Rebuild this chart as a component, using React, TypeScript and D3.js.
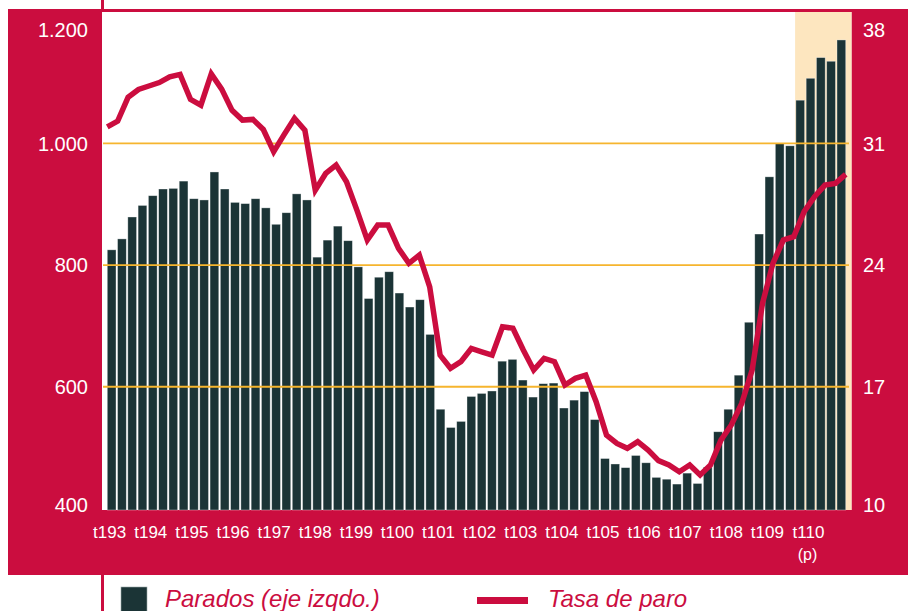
import React from 'react';
import * as d3 from 'd3';

// Parados (miles), un valor por trimestre
const parados = [
  825, 843, 879, 898, 914, 925, 926, 938, 909, 907,
  953, 925, 903, 901, 909, 894, 867, 886, 917, 907,
  813, 841, 864, 840, 797, 745, 780, 789, 754, 731,
  743, 686, 563, 533, 543, 584, 589, 593, 642, 645,
  611, 583, 605, 606, 565, 578, 592, 546, 482, 473,
  467, 487, 475, 451, 448, 440, 458, 441, 468, 526,
  563, 619, 706, 851, 945, 1000, 996, 1071, 1107, 1141,
  1135, 1170,
];

// Tasa de paro (%), mismo trimestre
const tasa = [
  31.95, 32.28, 33.65, 34.1, 34.3, 34.5, 34.83, 34.97, 33.53, 33.2,
  35.0, 34.12, 32.9, 32.34, 32.38, 31.8, 30.52, 31.5, 32.44, 31.76,
  28.31, 29.27, 29.75, 28.79, 27.16, 25.44, 26.3, 26.3, 24.96, 24.1,
  24.57, 22.75, 18.82, 18.06, 18.44, 19.2, 19.01, 18.82, 20.45, 20.36,
  19.11, 17.96, 18.63, 18.44, 17.1, 17.48, 17.67, 16.14, 14.22, 13.74,
  13.46, 13.84, 13.36, 12.75, 12.5, 12.11, 12.5, 11.92, 12.5, 13.93,
  14.8, 16.04, 17.96, 21.8, 24.1, 25.44, 25.63, 27.07, 27.93, 28.6,
  28.7, 29.22,
];

const yearLabels = [
  't193', 't194', 't195', 't196', 't197', 't198', 't199', 't100', 't101',
  't102', 't103', 't104', 't105', 't106', 't107', 't108', 't109', 't110',
];
const leftTicks = [400, 600, 800, 1000, 1200];
const rightTicks = [10, 17, 24, 31, 38];
const gridValues = [600, 800, 1000];
const provisionalFrom = 67; // primer trimestre del area sombreada

const RED = '#cb0d3f';
const BAR = '#1b3436';
const GRID = '#f6b52e';
const SHADE = '#fde6bf';
const FONT = '"Liberation Sans", Arial, Helvetica, sans-serif';

const es = d3.formatLocale({ decimal: ',', thousands: '.', grouping: [3], currency: ['', ' €'] });
const fmt = es.format(',');

export default function App() {
  const width = 908;
  const height = 611;
  const plot = { left: 102, right: 851.5, top: 12, bottom: 510 };

  const x = d3.scaleBand<number>()
    .domain(d3.range(parados.length))
    .range([106.5, 846.5])
    .paddingInner(0.15)
    .paddingOuter(0.075);
  const bw = x.bandwidth();

  const lx = d3.scaleLinear()
    .domain([0, tasa.length - 1])
    .range([x(0)!, x(tasa.length - 1)! + bw]);

  const yL = d3.scaleLinear().domain([400, 1200]).range([508.4, 21.7]);
  const yR = d3.scaleLinear().domain([10, 38]).range([508.4, 21.7]);

  const line = d3.line<number>()
    .x((_, i) => lx(i))
    .y(d => yR(d));

  const labelY = (v: number) => Math.min(Math.max(v, 30), 505);
  const shadeX = x(provisionalFrom)! - (x.step() - bw) / 2;

  return (
    <svg width={width} height={height} style={{ position: 'absolute', left: 0, top: 0 }}>
      <rect x={0} y={0} width={width} height={height} fill="#fff" />
      <line x1={102.5} x2={102.5} y1={0} y2={height} stroke={RED} strokeWidth={3} />
      <rect x={8} y={9} width={width - 8} height={575 - 9} fill={RED} />
      <rect x={plot.left} y={plot.top} width={plot.right - plot.left} height={plot.bottom - plot.top} fill="#fff" />
      <rect x={shadeX} y={plot.top} width={plot.right - shadeX} height={plot.bottom - plot.top} fill={SHADE} />

      {parados.map((v, i) => (
        <rect key={i} x={x(i)} y={yL(v)} width={bw} height={plot.bottom - yL(v)}
          fill={BAR} stroke="rgba(255,255,255,0.5)" strokeWidth={0.7} />
      ))}

      {gridValues.map(v => (
        <line key={v} x1={103} x2={849} y1={yL(v)} y2={yL(v)} stroke={GRID} strokeWidth={1.8} />
      ))}

      <path d={line(tasa) || ''} fill="none" stroke={RED} strokeWidth={5.5} strokeLinejoin="miter" />

      {leftTicks.map(v => (
        <text key={v} x={88} y={labelY(yL(v))} dy="0.36em" textAnchor="end"
          fill="#fff" fontSize={20} fontFamily={FONT}>{fmt(v)}</text>
      ))}
      {rightTicks.map(v => (
        <text key={v} x={863} y={labelY(yR(v))} dy="0.36em" textAnchor="start"
          fill="#fff" fontSize={20} fontFamily={FONT}>{v}</text>
      ))}

      {yearLabels.map((t, k) => (
        <text key={t} x={x(k * 4)! + bw / 2 - 2} y={538} textAnchor="middle"
          fill="#fff" fontSize={17} fontFamily={FONT}>{t}</text>
      ))}
      <text x={x((yearLabels.length - 1) * 4)! + bw / 2 - 3} y={560} textAnchor="middle"
        fill="#fff" fontSize={16} fontFamily={FONT}>(p)</text>

      <rect x={121} y={587} width={26} height={26} fill={BAR} stroke="#9aa8a8" strokeWidth={0.6} />
      <text x={165} y={607} fill={RED} fontSize={24} fontStyle="italic" fontFamily={FONT}>Parados (eje izqdo.)</text>
      <line x1={477} x2={528} y1={600.5} y2={600.5} stroke={RED} strokeWidth={7} />
      <text x={548} y={607} fill={RED} fontSize={24} fontStyle="italic" fontFamily={FONT}>Tasa de paro</text>
    </svg>
  );
}
